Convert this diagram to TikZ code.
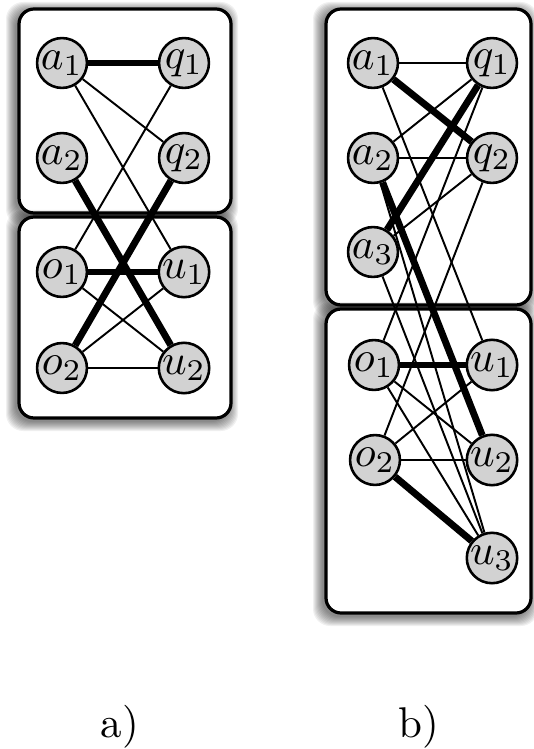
\documentclass[tikz,border=0pt]{standalone}
\usetikzlibrary{positioning}

% frame of one group, with a soft halo round it
\newcommand\groupbox[4]{%
  \foreach \k in {1,...,10}
    \fill[black, opacity=.06, rounded corners=4pt]
      (#1-\k-3,#2-\k+3) rectangle (#3+\k-3,#4+\k+3);
  \draw[boxframe] (#1,#2) rectangle (#3,#4);
}

\begin{document}
\begin{tikzpicture}[
    x=0.2325pt, y=-0.2325pt,
    vertex/.style = {circle, draw, line width=0.6pt, fill=gray!35,
                     minimum size=11.6pt, inner sep=0pt},
    boxframe/.style = {draw, line width=0.75pt, fill=white, rounded corners=3.5pt},
    lite/.style = {line width=0.45pt},
    heavy/.style = {line width=1.6pt}
  ]
    \useasboundingbox (0,0) rectangle (533,749);

    % a) the two groups
    \groupbox{19}{9}{231}{213}
    \groupbox{19}{217}{231}{418}
    % b) the two groups
    \groupbox{326}{9}{531}{305}
    \groupbox{326}{309}{531}{613}

    % a) vertices
    \node[vertex] (pa-a1) at (62,63)  {$a_1$};
    \node[vertex] (pa-q1) at (184,63) {$q_1$};
    \node[vertex] (pa-a2) at (62,158) {$a_2$};
    \node[vertex] (pa-q2) at (184,158) {$q_2$};
    \node[vertex] (pa-o1) at (62,272) {$o_1$};
    \node[vertex] (pa-u1) at (184,272) {$u_1$};
    \node[vertex] (pa-o2) at (62,368) {$o_2$};
    \node[vertex] (pa-u2) at (184,368) {$u_2$};

    % b) vertices
    \node[vertex] (pb-a1) at (373,63)  {$a_1$};
    \node[vertex] (pb-q1) at (492,63)  {$q_1$};
    \node[vertex] (pb-a2) at (373,158) {$a_2$};
    \node[vertex] (pb-q2) at (492,158) {$q_2$};
    \node[vertex] (pb-a3) at (373,252) {$a_3$};
    \node[vertex] (pb-o1) at (374,365) {$o_1$};
    \node[vertex] (pb-u1) at (492,365) {$u_1$};
    \node[vertex] (pb-o2) at (375,460) {$o_2$};
    \node[vertex] (pb-u2) at (492,460) {$u_2$};
    \node[vertex] (pb-u3) at (492,558) {$u_3$};

    % a) edges
    \foreach \s/\t in {a1/q2, a1/u1, q1/o1, o1/u2, o2/u1, o2/u2}
      \draw[lite] (pa-\s) -- (pa-\t);
    \foreach \s/\t in {a1/q1, a2/u2, q2/o2, o1/u1}
      \draw[heavy] (pa-\s) -- (pa-\t);

    % b) edges
    \foreach \s/\t in {a1/q1, a2/q1, a2/q2, a3/q2, a1/u1, a2/u3, a3/u3,
                       q1/o1, q2/o2, o1/u2, o1/u3, o2/u1, o2/u2}
      \draw[lite] (pb-\s) -- (pb-\t);
    \foreach \s/\t in {a1/q2, a3/q1, a2/u2, o1/u1, o2/u3}
      \draw[heavy] (pb-\s) -- (pb-\t);

    % captions
    \node[anchor=base] (capa) at (120,737) {a)};
    \node[anchor=base] (capb) at (419,737) {b)};
\end{tikzpicture}
\end{document}
